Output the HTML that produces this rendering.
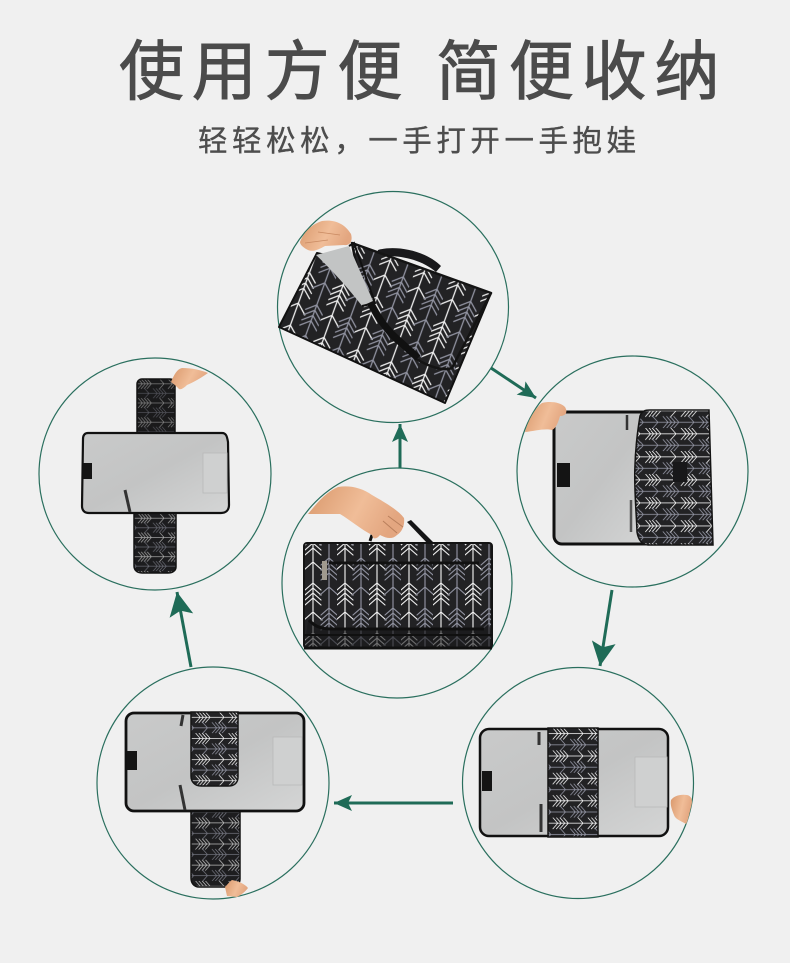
<!DOCTYPE html>
<html><head><meta charset="utf-8"><style>
html,body{margin:0;padding:0;background:#f0f0f0}
svg{display:block}
text{font-family:"Liberation Sans","Noto Sans CJK SC",sans-serif}
</style></head><body>
<svg width="790" height="963" viewBox="0 0 790 963" xmlns="http://www.w3.org/2000/svg">
<defs>
<g id="a" fill="none" stroke-linecap="round">
<path d="M0 0V50M-9 8L0 0L9 8M-8 28L0 21L8 28M-8 33L0 26L8 33M-8 38L0 31L8 38M-8 43L0 36L8 43" stroke-width="1.15"/>
</g>
<pattern id="p" width="32" height="50" patternUnits="userSpaceOnUse">
<rect width="32" height="50" fill="#222224"/>
<use href="#a" x="8" y="0" stroke="#efefef"/>
<use href="#a" x="24" y="-25" stroke="#9092a0"/>
<use href="#a" x="24" y="25" stroke="#9092a0"/>
</pattern>
<pattern id="pTop" href="#p" patternTransform="translate(290 300) rotate(20) scale(1.12)"/>
<pattern id="pC" href="#p" patternTransform="translate(305 512)"/>
<pattern id="pR" href="#p" patternTransform="translate(640 405) rotate(90) scale(.72)"/>
<pattern id="pBL" href="#p" patternTransform="translate(191 712) rotate(90) scale(.66)"/>
<pattern id="pL" href="#p" patternTransform="translate(134 379) rotate(90) scale(.6)"/>
<pattern id="pBR" href="#p" patternTransform="translate(548 728) rotate(90) scale(.7)"/>
<linearGradient id="g" x1="0" x2="1" y1="0" y2="1"><stop offset="0" stop-color="#c9caca"/><stop offset=".5" stop-color="#c3c4c4"/><stop offset="1" stop-color="#d4d5d5"/></linearGradient>
<linearGradient id="s" x1="0" x2="1" y1="0" y2=".3"><stop offset="0" stop-color="#d9986c"/><stop offset=".6" stop-color="#f0bd98"/><stop offset="1" stop-color="#e3a680"/></linearGradient>
<marker id="m" markerWidth="26" markerHeight="26" refX="24" refY="13" orient="auto" markerUnits="userSpaceOnUse">
<path d="M0 1L24 13L0 25L5 13Z" fill="#1f6b57"/>
</marker>
<marker id="n" markerWidth="20" markerHeight="20" refX="18" refY="10" orient="auto" markerUnits="userSpaceOnUse">
<path d="M0 2L18 10L0 18L4 10Z" fill="#1f6b57"/>
</marker>
</defs>

<rect width="790" height="963" fill="#f0f0f0"/>

<text x="119" y="94" font-size="65" letter-spacing="7.8" fill="#4b4b4b" stroke="#4b4b4b" stroke-width=".9">使用方便 简便收纳</text>
<text x="198" y="151" font-size="29.5" letter-spacing="4.55" fill="#4d4d4d" stroke="#4d4d4d" stroke-width=".35">轻轻松松，一手打开一手抱娃</text>

<g fill="none" stroke="#2a6f5e" stroke-width="1.2">
<circle cx="393" cy="307" r="115.5"/>
<circle cx="397" cy="583" r="115"/>
<circle cx="632.5" cy="471.5" r="115.5"/>
<circle cx="578" cy="783" r="115.5"/>
<circle cx="213" cy="783" r="116"/>
<circle cx="155" cy="474" r="116"/>
</g>

<g fill="none" stroke="#1f6b57" stroke-width="3">
<line x1="400" y1="468" x2="400" y2="424" marker-end="url(#n)"/>
<line x1="491" y1="368" x2="536" y2="398" marker-end="url(#n)"/>
<line x1="612" y1="590" x2="600" y2="666" marker-end="url(#m)"/>
<line x1="453" y1="803" x2="334" y2="803" marker-end="url(#n)"/>
<line x1="191" y1="667" x2="177" y2="592" marker-end="url(#m)"/>
</g>

<!-- top -->
<path d="M378 250C395 245 425 250 441 266L436 272C420 258 395 254 376 257Z" fill="#19191b"/>
<path d="M317 253L491 293L445 403L279 327Z" fill="url(#pTop)" stroke="#111" stroke-width="2" stroke-linejoin="round"/>
<path d="M352 243L491 293L452 368C445 371 430 368 415 358L392 338C380 325 370 305 360 285Z" fill="url(#pTop)" stroke="#141414" stroke-width="2.5" stroke-linejoin="round"/>
<path d="M362 285C370 305 382 325 395 337L418 358" fill="none" stroke="#111" stroke-width="7"/>
<path d="M316 255L349 246L373 301L362 306C350 290 330 268 316 255Z" fill="#c2c4c4"/>
<path d="M349 246L354 243L375 303L362 306" fill="none" stroke="#111" stroke-width="2"/>
<path d="M300 242C304 232 312 224 322 221C335 219 345 224 351 234C353 241 350 246 344 245L325 246C318 250 313 252 308 250C304 248 300 245 300 242Z" fill="url(#s)"/>
<path d="M305 243L328 240M318 232L340 235" stroke="#c98a62" stroke-width=".8" fill="none"/>

<!-- center -->
<path d="M370 541L372 535M372 535L376 530" stroke="#111" stroke-width="3" fill="none"/>
<path d="M407 522L411 520L435 544H428Z" fill="#151516"/>
<rect x="304" y="543" width="188" height="105" rx="3" fill="url(#pC)" stroke="#141414" stroke-width="2"/>
<path d="M329 563H479" stroke="#111" stroke-width="3" fill="none"/>
<path d="M310 622C322 630 330 628 340 628H480L487 620L492 634V648H304L308 622Z" fill="#19191b" fill-opacity=".6"/>
<path d="M309 620C315 627 322 629 332 629H484" stroke="#101010" stroke-width="3" fill="none"/>
<path d="M304 635H492" stroke="#101010" stroke-width="2" fill="none"/>
<path d="M304 648H492" stroke="#101010" stroke-width="3" fill="none"/>
<rect x="322" y="561" width="5" height="19" fill="#a09a8f"/>
<path d="M308 514C317 503 326 492 338 487C350 485 362 488 372 495C386 503 398 510 404 518C405 525 402 532 397 535C392 540 386 538 380 535C377 539 373 540 372 535C362 530 350 520 340 514C330 514 318 514 308 514Z" fill="url(#s)"/>
<path d="M383 521L397 533M388 516L403 527" stroke="#b97f5c" stroke-width="1" fill="none"/>

<!-- right -->
<rect x="554" y="412" width="100" height="132" rx="8" fill="url(#g)" stroke="#111" stroke-width="3"/>
<rect x="557" y="463" width="13" height="24" fill="#141414"/>
<path d="M627 415V430" stroke="#333" stroke-width="2.5"/>
<path d="M631 500V532" stroke="#555" stroke-width="2.5"/>
<path d="M640 416C642 411 645 410 650 410H709L713 545H648C641 545 638 538 637 532C636 500 631 470 640 416Z" fill="url(#pR)" stroke="#141414" stroke-width="1.5"/>
<rect x="673" y="462" width="14" height="20" fill="#18181a"/>
<path d="M525 432C528 421 535 408 542 403C550 401 560 402 565 407C568 412 566 416 560 416C558 423 556 428 552 430C545 428 535 431 525 432Z" fill="url(#s)"/>

<!-- bottom right -->
<rect x="480" y="729" width="188" height="107" rx="9" fill="url(#g)" stroke="#111" stroke-width="2.5"/>
<rect x="482" y="771" width="10" height="20" fill="#141414"/>
<rect x="635" y="757" width="32" height="50" fill="#cfd0d0" stroke="#b8b9b9" stroke-width=".8"/>
<path d="M539 732V745M541 804V832" stroke="#333" stroke-width="3"/>
<rect x="548" y="728" width="50" height="109" fill="url(#pBR)"/>
<rect x="548" y="728" width="50" height="109" fill="none" stroke="#141414" stroke-width="1.5"/>
<path d="M671 800C674 796 680 794 687 795C692 796 693 801 691 807C689 815 688 821 686 824C681 821 675 819 674 815C672 810 670 805 671 800Z" fill="url(#s)"/>

<!-- bottom left -->
<path d="M191 810H240V879C240 884 236 887 230 887H199C194 887 191 883 191 878Z" fill="url(#pBL)" stroke="#141414" stroke-width="1.5"/>
<path d="M191 810H240V879C240 884 236 887 230 887H199C194 887 191 883 191 878Z" fill="#111" fill-opacity=".25"/>
<rect x="126" y="713" width="178" height="98" rx="8" fill="url(#g)" stroke="#111" stroke-width="2.8"/>
<rect x="127" y="751" width="10" height="19" fill="#141414"/>
<rect x="273" y="737" width="29" height="48" fill="#cfd0d0" stroke="#b8b9b9" stroke-width=".8"/>
<path d="M183 715L181 726M180 785L185 810" stroke="#333" stroke-width="3"/>
<path d="M191 712H238V777C238 783 234 786 228 786H201C195 786 191 782 191 776Z" fill="url(#pBL)" stroke="#141414" stroke-width="1.5"/>
<path d="M225 887C228 884 230 881 232 880C238 881 245 884 248 888C245 892 241 895 237 897L227 896Z" fill="url(#s)"/>

<!-- left -->
<rect x="137" y="379" width="38" height="58" rx="5" fill="url(#pL)" stroke="#141414" stroke-width="1.5"/>
<rect x="137" y="379" width="38" height="58" rx="5" fill="#111" fill-opacity=".5"/>
<path d="M134 510H176V567C176 571 172 573 168 573H142C137 573 134 570 134 566Z" fill="url(#pL)" stroke="#141414" stroke-width="1.5"/>
<path d="M134 510H176V567C176 571 172 573 168 573H142C137 573 134 570 134 566Z" fill="#111" fill-opacity=".3"/>
<path d="M88 433H222C226 433 227 436 228 442L229 505C229 510 226 513 221 513H89C84 513 82 510 82 506L83 439C83 435 85 433 88 433Z" fill="url(#g)" stroke="#111" stroke-width="2.2"/>
<rect x="83" y="463" width="9" height="16" fill="#141414"/>
<rect x="203" y="453" width="24" height="40" fill="#cfd0d0" stroke="#b8b9b9" stroke-width=".8"/>
<path d="M125 490L130 512" stroke="#333" stroke-width="3"/>
<path d="M171 382C174 375 177 369 182 368C192 368 201 370 208 373C201 378 194 382 187 385C184 388 181 390 179 389C176 386 174 384 171 382Z" fill="url(#s)"/>
</svg>
</body></html>
